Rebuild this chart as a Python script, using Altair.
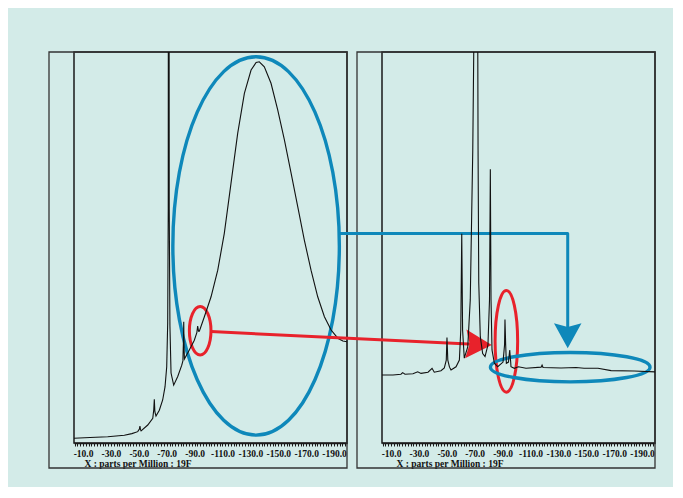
import altair as alt
import pandas as pd

# ---------------- data ----------------
# Left panel: 19F spectrum (chemical shift in ppm, relative intensity)
left_ppm = [-3.5, -15.0, -27.7, -39.6, -45.0, -49.2, -50.4, -50.8, -51.2, -51.6,
            -56.4, -60.0, -60.7, -61.1, -61.5, -62.3, -64.7, -67.1, -68.8, -70.0,
            -70.7, -71.1, -71.4, -71.8, -72.3, -73.1, -75.0, -77.9, -80.8, -81.6,
            -82.0, -82.2, -82.4, -82.7, -86.2, -89.8, -91.6, -92.2, -92.8, -93.4,
            -97.0, -101.8, -106.6, -111.3, -116.1, -120.9, -125.7, -130.5, -134.1, -136.4,
            -140.0, -144.8, -149.6, -154.4, -159.2, -164.0, -168.7, -173.5, -178.3, -183.1,
            -187.9, -192.7, -196.3, -199.3]
left_int = [1.2, 1.4, 1.6, 2.0, 2.4, 2.9, 3.6, 4.3, 3.4, 3.1,
            4.6, 6.3, 8.5, 11.2, 8.0, 6.9, 8.4, 11.0, 14.4, 19.5,
            30.7, 60.0, 300.0, 60.0, 30.0, 17.9, 14.8, 17.0, 19.9, 21.0,
            26.0, 31.0, 25.0, 21.5, 23.8, 26.3, 28.2, 29.9, 28.6, 28.6,
            32.3, 37.4, 44.2, 53.6, 66.4, 79.2, 89.4, 95.4, 97.3, 97.5,
            96.2, 92.0, 85.2, 77.5, 69.0, 60.4, 51.9, 44.2, 37.4, 32.3,
            28.9, 26.8, 26.1, 25.9]

# Right panel: 19F spectrum
right_ppm = [-3.5, -11.4, -17.1, -18.3, -20.0, -25.7, -29.1, -31.5, -36.5, -39.4,
             -41.0, -45.8, -48.2, -49.6, -50.1, -50.7, -51.9, -53.0, -56.6, -59.0,
             -60.0, -60.7, -61.3, -62.5, -65.0, -66.8, -67.8, -68.6, -69.3, -70.7,
             -72.2, -72.4, -72.9, -74.0, -75.7, -77.4, -79.5, -80.6, -81.2, -81.7,
             -82.4, -84.1, -86.5, -90.3, -91.4, -91.7, -92.2, -92.7, -94.2, -95.1,
             -95.8, -96.0, -98.4, -101.3, -106.8, -117.6, -118.3, -119.0, -131.9, -142.7,
             -148.4, -158.4, -167.8, -184.3, -199.3]
right_int = [17.4, 17.4, 17.6, 18.0, 17.6, 17.7, 18.2, 17.8, 18.1, 19.1,
             18.1, 18.5, 19.2, 21.2, 27.0, 21.2, 19.4, 18.7, 19.5, 21.2,
             28.9, 53.5, 28.9, 21.7, 24.6, 36.6, 57.9, 74.9, 100.0, 250.0,
             100.0, 74.9, 40.9, 27.2, 22.9, 22.1, 25.1, 36.6, 70.0, 36.6,
             23.8, 20.4, 19.5, 20.7, 25.1, 31.6, 25.1, 20.4, 20.7, 23.8,
             20.7, 19.5, 19.1, 19.5, 19.1, 19.4, 19.9, 19.3, 19.2, 19.3,
             19.1, 19.1, 18.5, 18.4, 18.2]

# Axis tick labels
label_values = [-10, -30, -50, -70, -90, -110, -130, -150, -170, -190]
tick_values = list(range(-4, -200, -2))
axis_title = "X : parts per Million : 19F"

# Annotations (panel data coordinates)
ell_panel = ["left", "left", "right", "right"]
ell_ppm = [-134.1, -94.0, -92.7, -138.5]
ell_int = [50.4, 28.7, 26.0, 19.4]
ell_a = [0.44, 0.446, 0.222, 1.0]
ell_b = [1.0, 1.0, 1.0, 0.184]
ell_size = [143186, 2343, 10323, 25472]
ell_color = ["blue", "red", "red", "blue"]

# red arrow (right-panel coordinates; start lies left of the panel)
red_from = (119.2, 28.5)
red_to = (-73.1, 25.2)
red_head = (-72.9, 25.2, 2.7)
# blue connector path (right-panel coordinates)
blue_path_ppm = [27.1, -136.7, -136.7]
blue_path_int = [53.6, 53.6, 28.1]
blue_head = (-136.7, 27.4, 90)

# ---------------- styling ----------------
BG = "#d3ebe8"
BLUE = "#0e88ba"
RED = "#e8222b"
INK = "#1a1a1a"
FONT = "Liberation Serif"
COLORS = {"blue": BLUE, "red": RED}

W, H = 273, 391
XDOM = [-3.5, -199.3]
YDOM = [0, 100]

K = 0.5523


def ellipse_path(a, b):
    f = lambda v: f"{v:.4f}"
    return (f"M{f(a)},0 C{f(a)},{f(K*b)} {f(K*a)},{f(b)} 0,{f(b)} "
            f"C{f(-K*a)},{f(b)} {f(-a)},{f(K*b)} {f(-a)},0 "
            f"C{f(-a)},{f(-K*b)} {f(-K*a)},{f(-b)} 0,{f(-b)} "
            f"C{f(K*a)},{f(-b)} {f(a)},{f(-K*b)} {f(a)},0 Z")


ARROW = "M1,0 L-1,-1.1 L-0.7,0 L-1,1.1 Z"


def make_axis(title_x):
    return alt.Axis(
        values=tick_values,
        labelExpr="indexof(" + str(label_values) + ", datum.value) >= 0 ? '-' + format(abs(datum.value), '.1f') : ''",
        labelOverlap=False, labelFlush=False,
        tickSize=3, tickColor=INK, tickWidth=1,
        domainColor=INK, domainWidth=1.5, grid=False,
        labelFont=FONT, labelFontSize=9.5, labelFontWeight="bold", labelColor="#111",
        labelPadding=2,
        title=axis_title, titleFont=FONT, titleFontSize=9.5, titleFontWeight="bold",
        titleColor="#111", titleAnchor="start", titleAlign="left",
        titleBaseline="middle", titleX=title_x, titleY=20,
    )


def xenc(field, axis):
    return alt.X(f"{field}:Q", scale=alt.Scale(domain=XDOM), axis=axis)


def yenc(field):
    return alt.Y(f"{field}:Q", scale=alt.Scale(domain=YDOM), axis=None)


def panel(name, ppm, inten, title_x, extra):
    ax = make_axis(title_x)
    frame = alt.Chart(pd.DataFrame({"k": [0]})).mark_rect(
        fillOpacity=0, stroke="#333", strokeWidth=1.3
    ).encode(x=alt.value(-25), x2=alt.value(W), y=alt.value(0), y2=alt.value(H + 25))
    spec = alt.Chart(pd.DataFrame({"ppm": ppm, "int": inten, "k": range(len(ppm))})).mark_line(
        color="#111", strokeWidth=1.1, clip=True
    ).encode(x=xenc("ppm", ax), y=yenc("int"), order="k:Q")
    layers = [frame]
    for i in range(len(ell_panel)):
        if ell_panel[i] != name:
            continue
        layers.append(
            alt.Chart(pd.DataFrame({"ppm": [ell_ppm[i]], "int": [ell_int[i]]})).mark_point(
                shape=ellipse_path(ell_a[i], ell_b[i]), filled=False, opacity=1,
                color=COLORS[ell_color[i]], strokeWidth=3.4 if ell_color[i] == "blue" else 3.0,
                size=ell_size[i],
            ).encode(x=xenc("ppm", ax), y=yenc("int"))
        )
    layers += extra(ax)
    layers.append(spec)
    return alt.layer(*layers).properties(width=W, height=H)


def no_extra(ax):
    return []


def right_extra(ax):
    red_line = alt.Chart(pd.DataFrame({
        "ppm": [red_from[0]], "int": [red_from[1]],
        "ppm2": [red_to[0]], "int2": [red_to[1]]})).mark_rule(
        color=RED, strokeWidth=3
    ).encode(x=xenc("ppm", ax), x2="ppm2:Q", y=yenc("int"), y2="int2:Q")
    red_arrow = alt.Chart(pd.DataFrame({"ppm": [red_head[0]], "int": [red_head[1]]})).mark_point(
        shape=ARROW, filled=True, opacity=1, color=RED, size=676, angle=red_head[2]
    ).encode(x=xenc("ppm", ax), y=yenc("int"))
    blue_line = alt.Chart(pd.DataFrame({
        "ppm": blue_path_ppm, "int": blue_path_int, "k": [0, 1, 2]})).mark_line(
        color=BLUE, strokeWidth=3, strokeJoin="round"
    ).encode(x=xenc("ppm", ax), y=yenc("int"), order="k:Q")
    blue_arrow = alt.Chart(pd.DataFrame({"ppm": [blue_head[0]], "int": [blue_head[1]]})).mark_point(
        shape=ARROW, filled=True, opacity=1, color=BLUE, size=625, angle=blue_head[2]
    ).encode(x=xenc("ppm", ax), y=yenc("int"))
    return [red_line, red_arrow, blue_line, blue_arrow]


left = panel("left", left_ppm, left_int, 10, no_extra)
right = panel("right", right_ppm, right_int, 14, right_extra)

chart = alt.hconcat(left, right, spacing=35, bounds="flush").properties(
    padding={"left": 39, "top": 41, "right": 15, "bottom": 17}
).configure(background=BG).configure_view(stroke=INK, strokeWidth=1.5)

chart.save("out.html", embed_options={"renderer": "svg", "actions": False})
